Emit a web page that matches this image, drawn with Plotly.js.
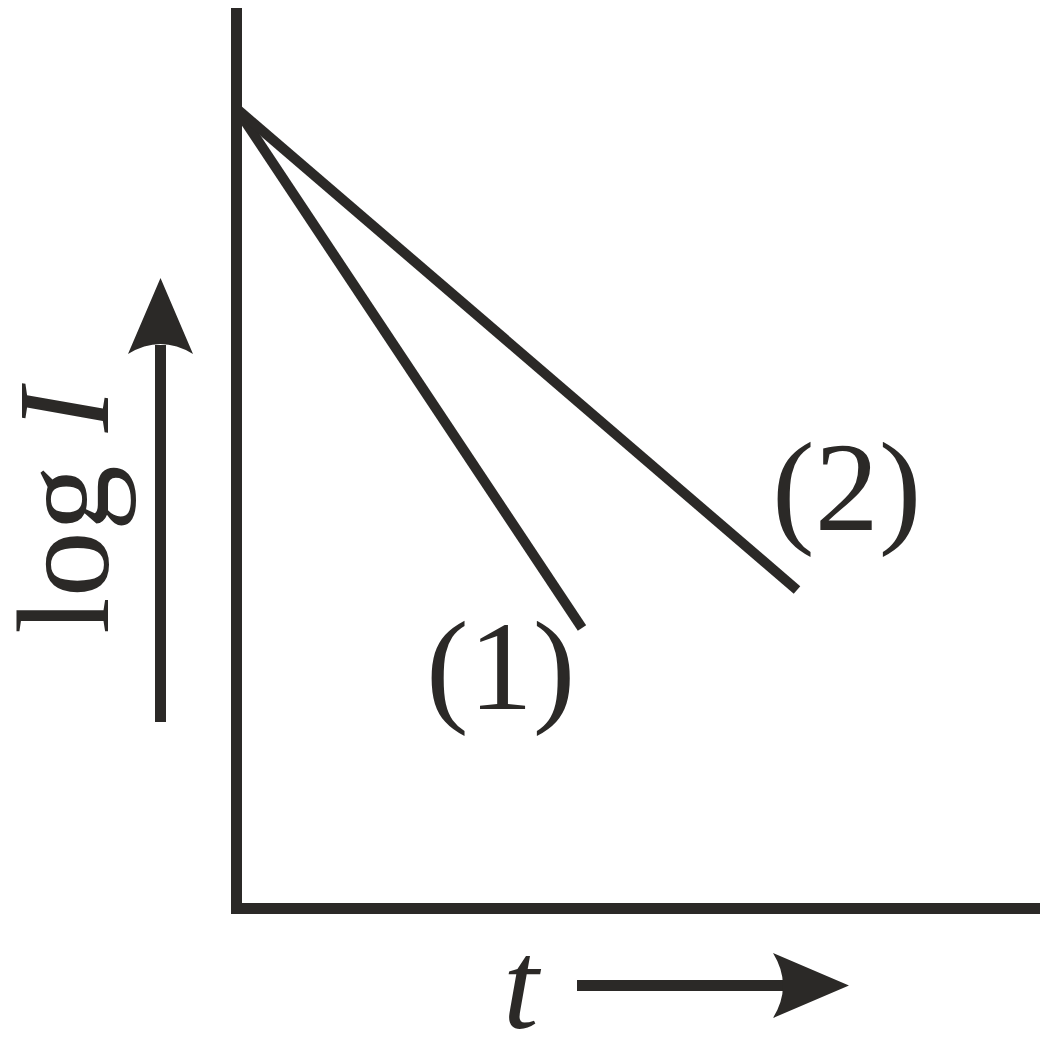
<!DOCTYPE html>
<html>
<head>
<meta charset="utf-8">
<script src="https://cdn.plot.ly/plotly-3.0.1.min.js"></script>
<style>
  html, body { margin: 0; padding: 0; background: #ffffff; }
  #chart { width: 1060px; height: 1048px; }
</style>
</head>
<body>
<div id="chart"></div>
<script>
// ---- data ----
const seriesNames = ['(1)', '(2)'];
const time1 = [0, 3.455];
const logI1 = [8.0, 2.805];
const time2 = [0, 5.605];
const logI2 = [8.0, 3.185];
const yAxisLabel = 'log <i>I</i>';
const xAxisLabel = '<i>t</i>';

// ---- styling / layout ----
const W = 1060, H = 1048;
const INK = '#2b2927';
const FONT = 'Liberation Serif, Times New Roman, serif';
const px = x => x / W;          // pixel -> paper x
const py = y => 1 - y / H;      // pixel -> paper y
const P = (x, y) => px(x).toFixed(5) + ',' + py(y).toFixed(5);

const traces = [
  { x: time1, y: logI1, name: seriesNames[0], mode: 'lines', type: 'scatter',
    line: { color: INK, width: 10 }, hoverinfo: 'skip' },
  { x: time2, y: logI2, name: seriesNames[1], mode: 'lines', type: 'scatter',
    line: { color: INK, width: 10 }, hoverinfo: 'skip' }
];

const shapes = [
  // vertical axis
  { type: 'rect', xref: 'paper', yref: 'paper', x0: px(231), x1: px(242), y0: py(914), y1: py(8),
    fillcolor: INK, line: { width: 0 }, layer: 'above' },
  // horizontal axis
  { type: 'rect', xref: 'paper', yref: 'paper', x0: px(231), x1: px(1040), y0: py(914), y1: py(903),
    fillcolor: INK, line: { width: 0 }, layer: 'above' },
  // up arrow shaft
  { type: 'rect', xref: 'paper', yref: 'paper', x0: px(155), x1: px(166), y0: py(722), y1: py(345),
    fillcolor: INK, line: { width: 0 }, layer: 'above' },
  // up arrow head
  { type: 'path', xref: 'paper', yref: 'paper',
    path: 'M' + P(128, 354) + ' L' + P(160.5, 278) + ' L' + P(193, 354) + ' Q' + P(160.5, 334) + ' ' + P(128, 354) + ' Z',
    fillcolor: INK, line: { width: 0 }, layer: 'above' },
  // right arrow shaft
  { type: 'rect', xref: 'paper', yref: 'paper', x0: px(577), x1: px(785), y0: py(991), y1: py(980),
    fillcolor: INK, line: { width: 0 }, layer: 'above' },
  // right arrow head
  { type: 'path', xref: 'paper', yref: 'paper',
    path: 'M' + P(773, 953) + ' L' + P(849, 985.5) + ' L' + P(773, 1018) + ' Q' + P(793, 985.5) + ' ' + P(773, 953) + ' Z',
    fillcolor: INK, line: { width: 0 }, layer: 'above' }
];

const annFont = { family: FONT, size: 128, color: INK };
const annotations = [
  { text: seriesNames[0], xref: 'paper', yref: 'paper', x: px(500.5), y: py(666),
    xanchor: 'center', yanchor: 'middle', showarrow: false, font: annFont },
  { text: seriesNames[1], xref: 'paper', yref: 'paper', x: px(846), y: py(487),
    xanchor: 'center', yanchor: 'middle', showarrow: false, font: annFont },
  { text: yAxisLabel, xref: 'paper', yref: 'paper', x: px(63), y: py(508), textangle: -90,
    xanchor: 'center', yanchor: 'middle', showarrow: false,
    font: { family: FONT, size: 132, color: INK } },
  { text: xAxisLabel, xref: 'paper', yref: 'paper', x: px(522), y: py(985),
    xanchor: 'center', yanchor: 'middle', showarrow: false, font: annFont }
];

const hiddenAxis = {
  showgrid: false, zeroline: false, showline: false, showticklabels: false,
  ticks: '', fixedrange: true
};

const layout = {
  width: W, height: H,
  margin: { l: 0, r: 0, t: 0, b: 0, pad: 0 },
  paper_bgcolor: '#ffffff', plot_bgcolor: '#ffffff',
  showlegend: false,
  xaxis: Object.assign({ range: [-2.365, 8.235] }, hiddenAxis),
  yaxis: Object.assign({ range: [-1.395, 9.085] }, hiddenAxis),
  shapes: shapes,
  annotations: annotations
};

Plotly.newPlot('chart', traces, layout, { displayModeBar: false, staticPlot: true });
</script>
</body>
</html>
